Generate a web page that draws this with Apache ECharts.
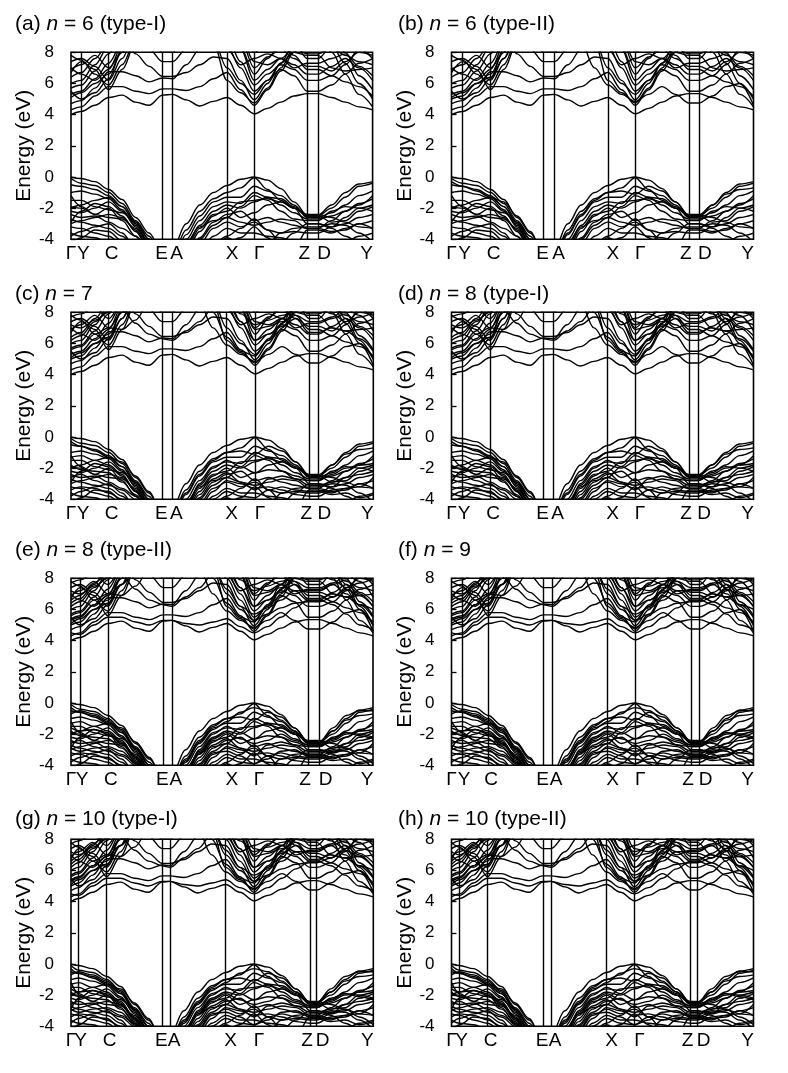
<!DOCTYPE html>
<html>
<head>
<meta charset="UTF-8">
<title>band structures</title>
<script src="https://cdn.jsdelivr.net/npm/echarts@6.0.0/dist/echarts.min.js"></script>
<style>
  html, body { margin: 0; padding: 0; background: #fff; }
  #main { width: 788px; height: 1073px; }
</style>
</head>
<body>
<div id="main"></div>
<script>
// k-path labels (high-symmetry points)
var kLabels = ['Γ', 'Y', 'C', 'E', 'A', 'X', 'Γ', 'Z', 'D', 'Y'];
// small nudges of the printed labels relative to their lines (as in the figure)
var labelShift = [0, 2, 3, -1, 4, 5, 5, -3, 6, -6];

// positions of the high-symmetry points along the path, per panel
var ticksA = [0, 10.3, 37.6, 91.6, 101.6, 156, 183.3, 236.3, 247, 301.6];
var ticksB = [0, 11, 39, 92, 103, 156.4, 183.7, 237.4, 247.4, 302];
var ticksC = [0, 10, 37.7, 91.3, 101.3, 155.7, 184, 238.3, 247.3, 302.3];
var ticksD = [0, 10.5, 38.5, 92, 102, 156, 183.5, 237.5, 246.5, 302];
var ticksE = [0, 9.1, 36.8, 92.3, 100.9, 155.8, 183, 237, 248.6, 302];
var ticksF = [0, 10.6, 36.7, 92.1, 100.7, 156, 183.7, 239.6, 248.1, 302];
var ticksG = [0, 7.7, 35.7, 91.3, 99, 154.7, 183, 239, 245.7, 302.3];
var ticksH = [0, 8, 36, 91.5, 99.5, 155, 183, 239, 246, 302];

// where each band is sampled inside the 9 path segments
var segFrac = [[0], [0, 0.5], [0, 0.25, 0.5, 0.75], [0], [0, 0.25, 0.5, 0.75],
               [0, 0.5], [0, 0.25, 0.5, 0.75], [0], [0, 0.25, 0.5, 0.75]];

// energies (eV), order: G Y m | C c c c | E | A a a a | X m | G g g g | Z | D d d d | Y
var cb1 = [4.0,4.2,4.6, 5.1,5.25,4.8,4.6, 5.25, 5.3,4.95,4.55,4.85, 5.1,4.6, 4.05,4.4,4.8,5.2, 5.35, 5.35,5.1,4.8,4.5, 4.3];
var cb2 = [4.3,4.5,5.2, 5.8,5.8,5.5,5.35, 5.65, 5.65,5.55,5.8,6.3, 6.7,5.6, 4.6,5.6,6.8,8.0, 9.0, 9.0,8.0,6.6,5.3, 4.5];
var cb3 = [4.7,4.9,5.7, 6.75,6.75,6.5,6.1, 6.35, 6.3,7.2,8.2,9.0, 8.4,7.0, 5.5,6.2,6.9,6.5, 5.5, 5.5,5.9,6.6,7.3, 7.6];
var cb4 = [5.3,5.5,6.3, 7.3,8.6,9.5,9.5, 9.5, 9.5,9.5,9.5,8.6, 6.2,5.4, 4.75,5.7,7.0,8.3, 9.0, 9.0,8.4,7.3,6.0, 5.0];
var cb5 = [5.7,5.9,6.8, 7.9,9.5,7.9,7.1, 6.45, 6.45,6.7,7.2,7.7, 7.6,6.2, 4.95,6.0,7.3,8.6, 9.2, 9.2,9.0,8.0,6.5, 5.6];
var cb6 = [6.0,6.2,7.2, 8.4,9.5,9.5,8.2, 7.4, 7.4,8.2,9.5,9.5, 9.0,7.4, 5.9,6.6,7.2,6.9, 6.2, 6.2,6.5,7.2,8.2, 8.5];
var cb7 = [6.4,6.7,7.6, 8.6,9.5,9.5,9.5, 9.5, 9.5,9.5,9.5,9.5, 9.5,8.3, 6.6,7.6,8.6,7.8, 6.9, 6.9,6.5,6.1,5.8, 5.2];
var cb8 = [6.9,7.2,7.8, 7.0,8.0,9.5,9.5, 9.5, 9.5,9.5,9.5,9.0, 8.2,7.2, 7.6,7.9,7.6,7.0, 7.3, 7.3,7.6,7.9,7.1, 6.5];
var cb9 = [7.4,7.6,7.1, 6.2,7.6,9.5,9.5, 9.5, 9.5,9.5,9.5,8.8, 7.0,6.0, 5.3,6.2,7.3,8.0, 7.8, 7.8,7.0,6.8,6.9, 7.0];
var cb10 = [7.8,7.5,6.6, 5.9,7.2,8.8,9.5, 9.5, 9.5,9.5,9.5,9.5, 9.5,9.0, 7.4,7.2,7.6,8.3, 7.9, 7.9,8.3,7.8,7.4, 7.2];
var cb11 = [8.3,8.1,8.4, 9.5,9.5,9.5,9.0, 8.0, 8.0,9.0,9.5,9.5, 9.5,9.5, 8.0,8.5,9.5,9.5, 8.3, 8.3,8.7,9.5,8.2, 7.6];
var cb12 = [8.6,8.6,8.8, 9.5,9.5,9.5,9.5, 9.5, 9.5,9.5,9.5,9.5, 9.5,9.5, 8.6,9.5,9.5,8.6, 7.6, 7.6,8.4,8.9,9.5, 8.2];
var cb13 = [5.1,5.4,6.0, 6.6,8.0,9.5,9.5, 9.5, 9.5,9.5,9.5,9.5, 9.5,8.2, 6.2,6.9,7.6,7.2, 6.6, 6.6,7.1,7.6,7.0, 6.2];
var cb14 = [7.0,6.6,6.2, 6.9,8.4,9.5,9.5, 9.5, 9.5,9.5,9.5,9.5, 9.5,8.8, 7.0,7.7,8.2,7.6, 7.1, 7.1,6.8,7.4,8.0, 7.8];
var cb15 = [5.5,5.0,5.4, 6.3,8.2,9.5,9.5, 9.5, 9.5,9.5,9.5,9.5, 9.5,9.5, 8.4,8.8,9.5,9.5, 9.5, 9.5,9.5,9.5,9.5, 9.5];
var cb16 = [6.7,7.4,6.9, 5.6,6.9,8.6,9.5, 9.5, 9.5,9.5,9.5,9.5, 9.5,9.5, 9.5,9.5,9.5,9.5, 9.5, 9.5,9.5,9.5,9.5, 9.5];

var vb1 = [0.0,-0.1,-0.3, -0.8,-1.45,-2.6,-3.6, -5.0, -4.6,-3.0,-1.8,-1.0, -0.55,-0.15, 0.0,-0.2,-0.75,-1.6, -2.45, -2.45,-1.8,-1.0,-0.45, -0.3];
var vb2 = [-0.1,-0.4,-0.55, -1.0,-1.7,-2.8,-3.8, -5.2, -5.0,-3.4,-2.2,-1.4, -1.0,-0.7, -0.05,-0.8,-1.5,-2.0, -2.5, -2.5,-2.0,-1.3,-0.6, -0.4];
var vb3 = [-0.5,-0.6,-0.8, -1.2,-1.9,-3.0,-4.0, -5.4, -5.3,-3.7,-2.5,-1.6, -1.3,-1.3, -0.6,-0.9,-1.2,-1.8, -2.6, -2.6,-2.3,-1.8,-1.2, -0.9];
var vb4 = [-1.0,-0.9,-1.1, -1.4,-2.1,-3.2,-4.3, -5.6, -5.6,-4.0,-2.8,-1.9, -1.6,-1.7, -1.0,-1.3,-1.8,-2.3, -2.7, -2.7,-2.5,-2.2,-1.7, -1.4];
var vb5 = [-1.5,-1.5,-1.9, -2.1,-2.3,-2.9,-4.0, -5.5, -5.8,-4.4,-3.1,-2.2, -1.8,-2.0, -1.6,-1.3,-1.4,-1.9, -2.5, -2.5,-2.9,-2.8,-2.2, -1.9];
var vb6 = [-1.9,-2.0,-2.4, -2.6,-2.7,-3.3,-4.3, -5.8, -6.0,-4.8,-3.5,-2.5, -2.0,-2.6, -2.3,-1.8,-1.6,-2.0, -3.0, -3.0,-3.2,-3.0,-2.6, -2.4];
var vb7 = [-2.4,-2.6,-2.5, -2.9,-3.3,-3.8,-4.6, -6.0, -6.2,-5.0,-3.9,-2.9, -2.4,-2.2, -2.8,-2.6,-2.9,-3.1, -3.3, -3.3,-3.5,-3.4,-3.0, -2.8];
var vb8 = [-2.7,-2.9,-3.1, -3.3,-3.8,-4.5,-5.2, -6.5, -6.5,-5.4,-4.3,-3.3, -2.9,-3.2, -2.9,-3.4,-3.6,-3.5, -3.6, -3.6,-3.2,-2.6,-2.0, -1.8];
var vb9 = [-3.2,-3.3,-3.6, -3.8,-4.3,-5.0,-5.8, -7.0, -7.0,-6.0,-4.8,-3.8, -3.3,-3.6, -3.6,-3.8,-3.9,-4.1, -4.2, -4.2,-4.5,-4.2,-3.8, -3.6];
var vb10 = [-3.6,-3.8,-3.9, -4.2,-4.8,-5.5,-6.5, -7.5, -7.5,-6.5,-5.3,-4.3, -3.8,-3.3, -2.7,-3.4,-4.2,-3.6, -3.0, -3.0,-3.3,-3.8,-4.2, -4.0];
var vb11 = [-2.2,-2.3,-2.0, -1.6,-2.2,-3.1,-4.2, -5.6, -5.9,-4.6,-3.3,-2.4, -2.2,-1.6, -1.5,-1.4,-1.6,-2.0, -2.4, -2.4,-2.6,-2.9,-3.2, -3.3];
var vb12 = [-3.0,-2.8,-2.6, -2.4,-2.6,-3.4,-4.5, -6.0, -6.4,-5.2,-4.0,-3.1, -2.6,-2.9, -3.1,-2.9,-2.7,-2.8, -3.3, -3.3,-2.8,-2.2,-1.8, -1.2];
var vb13 = [-3.8,-3.5,-3.2, -3.0,-3.6,-4.6,-5.6, -7.0, -7.0,-6.8,-5.6,-4.5, -3.9,-4.3, -4.5,-4.3,-3.6,-3.3, -3.2, -3.2,-3.0,-3.1,-3.6, -4.2];
var vb14 = [-4.3,-3.9,-3.4, -3.5,-4.1,-5.2,-6.2, -7.5, -7.5,-7.2,-6.0,-4.9, -4.2,-3.9, -3.2,-3.9,-4.6,-4.6, -3.4, -3.4,-3.6,-3.3,-3.0, -3.3];
var vb15 = [-2.0,-1.8,-1.5, -1.3,-1.9,-2.9,-4.0, -5.4, -5.6,-4.2,-3.2,-2.8, -2.6,-1.9, -1.2,-1.5,-2.2,-2.7, -2.8, -2.8,-2.2,-1.9,-2.0, -2.2];
var vb16 = [-1.2,-1.9,-2.4, -2.0,-2.8,-3.8,-5.0, -6.5, -6.5,-6.5,-6.5,-6.5, -6.5,-6.5, -6.5,-6.5,-6.5,-6.5, -6.5, -6.5,-6.5,-6.5,-6.5, -6.5];
var vb17 = [-2.9,-2.2,-1.7, -1.9,-2.5,-3.5,-4.7, -6.5, -6.5,-6.5,-6.5,-6.5, -6.5,-6.5, -6.5,-6.5,-6.5,-6.5, -6.5, -6.5,-6.5,-6.5,-6.5, -6.5];

// extra bands seen in the larger cells
var ecb1 = [5.0,5.2,6.0, 6.4,7.6,9.0,9.5, 9.5, 9.5,9.5,8.6,7.0, 5.9,5.3, 4.85,5.3,5.8,5.3, 4.75, 4.75,5.2,5.8,6.0, 4.6];
var ecb2 = [5.6,5.8,6.6, 7.0,6.9,7.5,8.6, 9.5, 9.5,9.5,9.5,8.0, 6.4,5.5, 5.2,6.3,7.6,8.8, 9.5, 9.5,8.6,7.6,6.2, 5.0];
var ecb3 = [6.2,6.5,7.4, 8.1,8.2,7.3,6.6, 6.3, 6.2,6.8,7.4,8.3, 8.6,7.4, 6.2,6.6,7.1,7.6, 6.7, 6.7,7.0,6.8,6.3, 5.5];
var ecb4 = [7.2,7.0,7.5, 8.0,9.5,9.5,9.5, 9.5, 9.5,9.5,9.5,9.5, 8.8,7.9, 7.2,7.5,7.8,8.1, 8.3, 8.3,7.9,7.4,7.7, 8.0];
var ecb5 = [7.7,7.9,8.3, 7.6,8.6,9.5,9.5, 9.5, 9.5,9.5,9.5,9.5, 9.5,8.6, 6.9,7.1,7.4,7.8, 7.4, 7.4,7.7,8.2,7.8, 6.8];
var evb1 = [-0.3,-0.6,-0.9, -1.3,-1.6,-2.5,-3.5, -5.0, -5.0,-3.6,-2.4,-1.5, -1.0,-0.9, -1.1,-0.6,-0.9,-1.6, -2.55, -2.55,-1.8,-1.1,-0.8, -0.7];
var evb2 = [-1.3,-1.2,-1.5, -1.8,-2.4,-3.5,-4.6, -6.0, -6.0,-4.6,-3.0,-2.0, -1.5,-1.9, -2.3,-2.1,-2.2,-2.5, -2.8, -2.8,-2.4,-2.0,-1.8, -1.7];
var evb3 = [-1.8,-2.1,-2.2, -2.3,-2.9,-3.7,-4.8, -6.2, -6.3,-4.9,-3.7,-2.7, -2.3,-2.9, -3.4,-2.7,-2.5,-2.7, -3.1, -3.1,-2.9,-2.6,-2.4, -2.2];
var evb4 = [-2.6,-2.4,-2.8, -3.1,-3.4,-4.0,-5.0, -6.5, -6.6,-5.6,-4.5,-3.5, -2.8,-3.0, -3.3,-3.2,-3.4,-3.7, -3.8, -3.8,-3.4,-3.3,-3.2, -2.6];
var evb5 = [-3.4,-3.2,-3.3, -3.6,-4.0,-4.8,-5.6, -7.0, -7.0,-6.2,-5.0,-4.0, -3.5,-3.8, -3.9,-3.4,-3.2,-3.4, -3.5, -3.5,-3.7,-3.6,-3.9, -3.7];
var gcb1 = [4.5,4.4,5.0, 5.5,5.5,5.2,5.0, 5.3, 5.3,5.1,5.0,5.2, 5.4,4.9, 4.5,4.9,5.5,6.1, 6.6, 6.6,6.3,5.7,5.0, 4.7];
var gcb2 = [6.6,6.9,7.7, 8.3,9.5,9.5,9.5, 9.5, 9.5,9.5,9.5,8.8, 7.3,6.2, 5.7,6.1,6.6,7.2, 7.2, 7.2,7.6,7.0,6.3, 6.0];
var gcb3 = [5.4,5.6,6.3, 6.9,7.6,8.5,9.5, 9.5, 9.5,9.5,9.5,8.9, 8.0,6.6, 5.3,5.7,6.1,6.4, 6.5, 6.5,6.8,7.3,6.9, 6.2];
var gvb1 = [-0.7,-0.5,-0.7, -1.1,-1.8,-2.9,-4.0, -5.4, -5.2,-3.8,-2.6,-1.7, -1.2,-0.6, -0.3,-0.5,-1.1,-1.8, -2.5, -2.5,-1.6,-0.8,-0.5, -0.5];
var gvb2 = [-1.6,-1.8,-1.7, -2.0,-2.6,-3.6,-4.7, -6.0, -6.1,-4.6,-3.2,-2.3, -1.9,-2.3, -2.6,-2.4,-2.0,-2.4, -2.7, -2.7,-2.3,-1.9,-2.1, -2.3];
var gvb3 = [-2.9,-3.1,-2.9, -2.8,-3.1,-3.9,-4.9, -6.5, -6.5,-5.3,-4.2,-3.2, -3.1,-3.4, -3.9,-3.6,-3.1,-3.0, -3.4, -3.4,-3.1,-2.9,-3.4, -3.9];

var coreBands = [cb1, cb2, cb3, cb4, cb5, cb6, cb7, cb8, cb9, cb10, cb11, cb12, cb13, cb14, cb15, cb16,
                 vb1, vb2, vb3, vb4, vb5, vb6, vb7, vb8, vb9, vb10, vb11, vb12, vb13, vb14, vb15, vb16, vb17];
var extraBands = [ecb1, ecb2, ecb3, ecb4, ecb5, evb1, evb2, evb3, evb4, evb5];
var denseBands = [gcb1, gcb2, gcb3, gvb1, gvb2, gvb3];

var panels = [
  {tag: '(a)', n: '6', kind: ' (type-I)', ticks: ticksA, bands: coreBands},
  {tag: '(b)', n: '6', kind: ' (type-II)', ticks: ticksB, bands: coreBands.concat([ecb1, evb1])},
  {tag: '(c)', n: '7', kind: '', ticks: ticksC, bands: coreBands.concat(extraBands)},
  {tag: '(d)', n: '8', kind: ' (type-I)', ticks: ticksD, bands: coreBands.concat(extraBands)},
  {tag: '(e)', n: '8', kind: ' (type-II)', ticks: ticksE, bands: coreBands.concat(extraBands, denseBands)},
  {tag: '(f)', n: '9', kind: '', ticks: ticksF, bands: coreBands.concat(extraBands, denseBands)},
  {tag: '(g)', n: '10', kind: ' (type-I)', ticks: ticksG, bands: coreBands.concat(extraBands, denseBands)},
  {tag: '(h)', n: '10', kind: ' (type-II)', ticks: ticksH, bands: coreBands.concat(extraBands, denseBands)}
];

var FONT = 'Liberation Sans, Arial, Helvetica, sans-serif';
var colLeft = [71, 451.5];
var rowTop = [52.3, 312.3, 578.3, 839.3];
var titleTop = [9, 279, 535, 804];
var plotH = 187;

function samplePositions(t) {
  var xs = [];
  for (var s = 0; s < 9; s++) {
    segFrac[s].forEach(function (f) { xs.push(t[s] + f * (t[s + 1] - t[s])); });
  }
  xs.push(t[9]);
  return xs;
}

// one label axis: shows the k labels whose index has the given parity
function labelAxis(i, t, parity) {
  var vals = [], texts = [];
  for (var k = parity; k < t.length; k += 2) {
    vals.push(Math.min(t[9], Math.max(0, t[k] + labelShift[k])));
    texts.push(kLabels[k]);
  }
  return {
    gridIndex: i, type: 'value', min: 0, max: t[9], position: 'bottom', offset: 0,
    axisLine: {show: false}, axisTick: {show: false}, splitLine: {show: false},
    axisLabel: {
      customValues: vals, color: '#000', fontSize: 19, fontFamily: FONT, margin: 5,
      showMinLabel: true, showMaxLabel: true, hideOverlap: false,
      formatter: function (v) {
        var best = 0;
        for (var k = 1; k < vals.length; k++) {
          if (Math.abs(vals[k] - v) < Math.abs(vals[best] - v)) best = k;
        }
        return texts[best];
      }
    }
  };
}

var grids = [], xAxes = [], yAxes = [], titles = [], series = [];

panels.forEach(function (p, i) {
  var col = i % 2, row = Math.floor(i / 2);
  var t = p.ticks;
  var kx = samplePositions(t);

  grids.push({
    left: colLeft[col], top: rowTop[row], width: t[9], height: plotH,
    show: true, borderColor: '#000', borderWidth: 1.6, backgroundColor: 'transparent'
  });
  titles.push({
    left: col === 0 ? 10 : 393, top: titleTop[row],
    text: '{p|' + p.tag + ' }{i|n}{p| = ' + p.n + p.kind + '}',
    textStyle: {
      fontWeight: 'normal',
      rich: {
        p: {fontSize: 21, color: '#000', fontFamily: FONT, fontWeight: 'normal'},
        i: {fontSize: 21, color: '#000', fontFamily: FONT, fontWeight: 'normal', fontStyle: 'italic'}
      }
    }
  });
  xAxes.push(labelAxis(i, t, 0));
  xAxes.push(labelAxis(i, t, 1));
  yAxes.push({
    gridIndex: i, type: 'value', min: -4, max: 8, interval: 2,
    axisLine: {show: false},
    axisTick: {show: true, inside: true, length: 5, lineStyle: {color: '#000', width: 1.3}},
    splitLine: {show: false},
    axisLabel: {color: '#000', fontSize: 17, fontFamily: FONT, margin: 17},
    name: 'Energy (eV)', nameLocation: 'middle', nameGap: 36,
    nameTextStyle: {color: '#000', fontSize: 21, fontFamily: FONT}
  });

  p.bands.forEach(function (b) {
    series.push({
      type: 'line', xAxisIndex: 2 * i, yAxisIndex: i,
      data: kx.map(function (x, j) { return [x, b[j]]; }),
      smooth: 0.35, smoothMonotone: 'x', symbol: 'none', silent: true,
      lineStyle: {color: '#000', width: 1.4}, clip: true
    });
  });

  // vertical lines at the inner high-symmetry points
  series.push({
    type: 'line', xAxisIndex: 2 * i, yAxisIndex: i, data: [], silent: true,
    markLine: {
      symbol: ['none', 'none'], silent: true, animation: false,
      label: {show: false},
      lineStyle: {color: '#000', type: 'solid', width: 1.4},
      data: t.slice(1, 9).map(function (x) { return {xAxis: x}; })
    }
  });
});

var chart = echarts.init(document.getElementById('main'), null, {renderer: 'canvas'});
chart.setOption({
  animation: false,
  backgroundColor: '#fff',
  title: titles,
  grid: grids,
  xAxis: xAxes,
  yAxis: yAxes,
  series: series
});
</script>
</body>
</html>
